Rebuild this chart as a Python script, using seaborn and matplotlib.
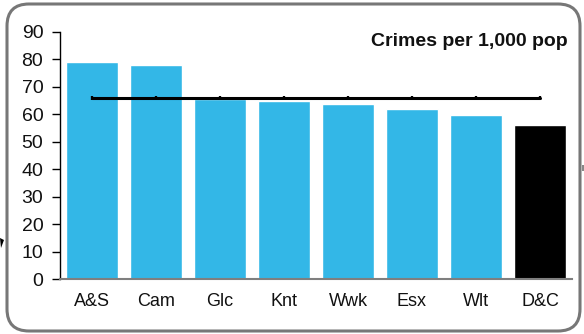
import matplotlib
matplotlib.use("Agg")
import matplotlib.pyplot as plt
import seaborn as sns
import pandas as pd
from matplotlib.patches import FancyBboxPatch, Polygon

categories = ["A&S", "Cam", "Glc", "Knt", "Wwk", "Esx", "Wlt", "D&C"]
crimes = [79.2, 78.1, 65.6, 64.8, 63.7, 61.8, 59.6, 56.0]
average = [66.0, 66.0, 66.0, 66.0, 66.0, 66.0, 66.0, 66.0]
bar_colors = ["#33b7e7"] * 7 + ["#000000"]
y_ticks = [0, 10, 20, 30, 40, 50, 60, 70, 80, 90]
title = "Crimes per 1,000 pop"

sns.set_theme(style="white")
plt.rcParams["font.family"] = ["Liberation Sans", "DejaVu Sans"]

df = pd.DataFrame({"area": categories, "crimes": crimes, "avg": average})

W, H = 584, 334
fig = plt.figure(figsize=(W / 100, H / 100), dpi=100)
ax = fig.add_axes([60 / W, 1 - 279 / H, (572 - 60) / W, (279 - 32) / H])

sns.barplot(data=df, x="area", y="crimes", hue="area", palette=bar_colors,
            legend=False, width=0.81, saturation=1, ax=ax)
sns.pointplot(data=df, x="area", y="avg", color="black", markers="|",
              markersize=2.5, linewidth=2.2, errorbar=None, ax=ax)

ax.set_ylim(0, 90)
ax.set_xlim(-0.5, 7.5)
ax.set_yticks(y_ticks)
ax.set_xlabel("")
ax.set_ylabel("")
for s in ["top", "right"]:
    ax.spines[s].set_visible(False)
ax.spines["left"].set_color("black")
ax.spines["left"].set_linewidth(1.0)
ax.spines["bottom"].set_color("#7f7f7f")
ax.spines["bottom"].set_linewidth(1.5)
ax.tick_params(axis="y", which="both", left=True, direction="out", length=6,
               width=1, color="black", pad=6, labelsize=14, labelcolor="#111111")
ax.tick_params(axis="x", length=0, pad=10, labelsize=13, labelcolor="#111111")

fig.text(568 / W, 1 - 42 / H, title, ha="right", va="center",
         fontsize=14, fontweight="bold", color="#111111")

box = FancyBboxPatch((0.07, 0.03), 5.73, 3.27,
                     boxstyle="round,pad=0,rounding_size=0.22",
                     transform=fig.dpi_scale_trans, fill=False,
                     edgecolor="#777777", linewidth=2.2, zorder=10)
fig.patches.append(box)

# small stray marks at the figure edges
fig.patches.append(Polygon([(0.0, 3.34 - 2.38), (0.04, 3.34 - 2.40), (0.01, 3.34 - 2.48)],
                           closed=True, transform=fig.dpi_scale_trans,
                           facecolor="black", edgecolor="none"))
fig.patches.append(Polygon([(5.82, 3.34 - 1.65), (5.84, 3.34 - 1.65),
                            (5.84, 3.34 - 1.71), (5.82, 3.34 - 1.71)],
                           closed=True, transform=fig.dpi_scale_trans,
                           facecolor="#888888", edgecolor="none"))

fig.savefig("out.png", dpi=100)
